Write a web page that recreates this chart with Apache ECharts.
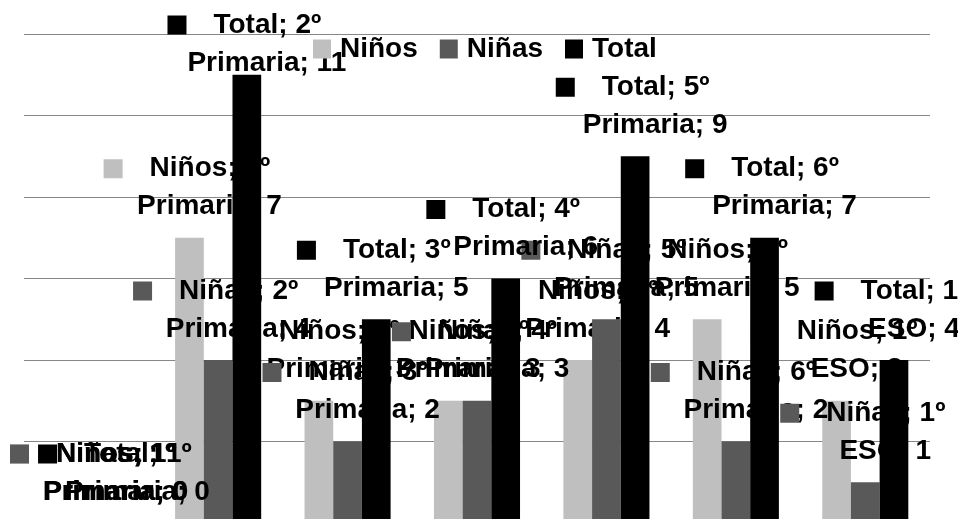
<!DOCTYPE html>
<html>
<head>
<meta charset="utf-8">
<script src="https://cdn.jsdelivr.net/npm/echarts@6/dist/echarts.min.js"></script>
<style>html,body{margin:0;padding:0;background:#fff;}#c{width:958px;height:519px;}</style>
</head>
<body>
<div id="c"></div>
<script>
const categories = ['1º Primaria', '2º Primaria', '3º Primaria', '4º Primaria', '5º Primaria', '6º Primaria', '1º ESO'];
const ninos = [0, 7, 3, 3, 4, 5, 3];
const ninas = [0, 4, 2, 3, 5, 2, 1];
const total = [0, 11, 5, 6, 9, 7, 4];
const seriesNames = ['Niños', 'Niñas', 'Total'];
const colors = ['#bfbfbf', '#595959', '#000000'];

const FONT = 'Liberation Sans';
function makeLabel(color) {
  return {
    show: true,
    position: 'top',
    distance: 17,
    formatter: function (p) {
      const parts = p.name.split(' ');
      return '{sq| }{gap| }{t|' + p.seriesName + '; ' + parts[0] + '}{tr| }\n{t|' + parts.slice(1).join(' ') + '; ' + p.value + '}';
    },
    rich: {
      sq: { width: 19, height: 19, backgroundColor: color, lineHeight: 38 },
      gap: { width: 27, lineHeight: 38 },
      tr: { width: 45, lineHeight: 38 },
      t: { fontFamily: FONT, fontSize: 28, fontWeight: 'bold', color: '#000', lineHeight: 38 }
    }
  };
}

const values = [ninos, ninas, total];
const chart = echarts.init(document.getElementById('c'), null, { renderer: 'canvas' });
chart.setOption({
  animation: false,
  color: colors,
  textStyle: { fontFamily: FONT },
  legend: {
    data: seriesNames,
    left: 313,
    top: 35,
    padding: 0,
    itemWidth: 18,
    itemHeight: 19,
    itemGap: 22,
    icon: 'rect',
    z: 10,
    textStyle: { fontFamily: FONT, fontSize: 28, fontWeight: 'bold', color: '#000', padding: [0, 0, 0, 4] }
  },
  grid: { left: 24, right: 28, top: 34, bottom: -4, outerBoundsMode: 'none' },
  xAxis: {
    type: 'category',
    data: categories,
    axisLabel: { show: false },
    axisTick: { show: false },
    axisLine: { show: false }
  },
  yAxis: {
    type: 'value',
    min: 0,
    max: 12,
    interval: 2,
    axisLabel: { show: false },
    axisTick: { show: false },
    axisLine: { show: false },
    splitLine: { lineStyle: { color: '#878787', width: 1 } }
  },
  series: seriesNames.map(function (n, i) {
    return {
      name: n,
      type: 'bar',
      data: values[i],
      z: 2 + i,
      barGap: '0%',
      barCategoryGap: '33.5%',
      itemStyle: { color: colors[i] },
      label: makeLabel(colors[i]),
      labelLayout: function (params) {
        const r = params.labelRect;
        const half = r.width / 2;
        return {
          x: Math.max(10 + half, r.x + half + 20),
          y: Math.max(6, r.y),
          align: 'center',
          verticalAlign: 'top'
        };
      }
    };
  })
});
</script>
</body>
</html>
